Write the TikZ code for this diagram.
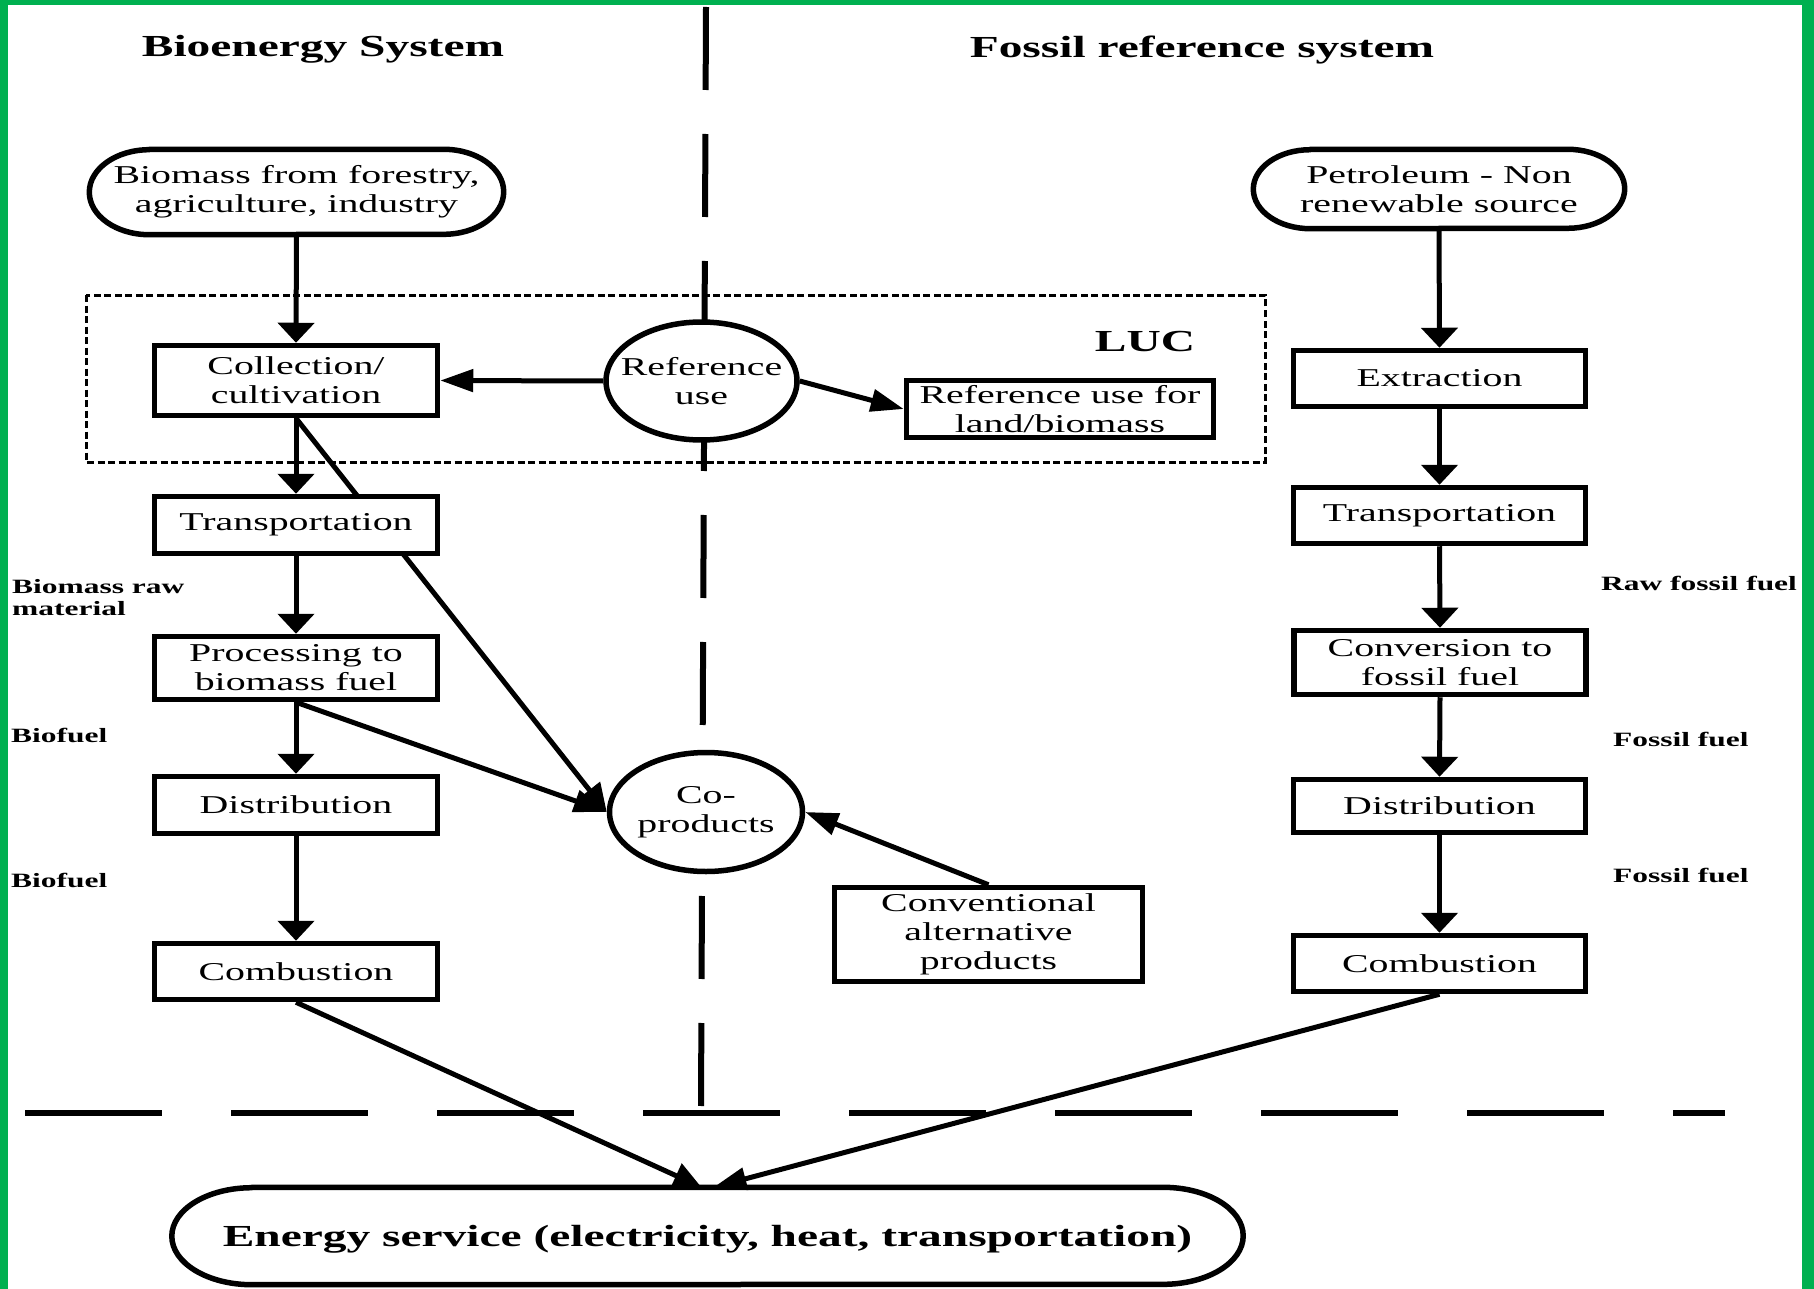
\documentclass[tikz,border=0pt]{standalone}
\usepackage{fontspec}
\setmainfont{Liberation Serif}[FakeStretch=1.55]
\usetikzlibrary{arrows.meta,shapes.geometric}
\pgfdeclarelayer{background}
\pgfsetlayers{background,main}
\definecolor{framegreen}{RGB}{0,176,80}

\newcommand\boxfont{\fontsize{25.7}{29}\selectfont}
\newcommand\labelfont{\fontsize{20.3}{22}\selectfont\bfseries}
\newcommand\titlefont{\fontsize{30.6}{35}\selectfont\bfseries}

% outline of a capsule node: name, end x radius, end y radius
\newcommand\capsuleoutline[3]{%
  \draw[outline] ([xshift=#2]#1.north west) -- ([xshift=-#2]#1.north east)
    arc[start angle=90,end angle=-90,x radius=#2,y radius=#3]
    -- ([xshift=#2]#1.south west)
    arc[start angle=270,end angle=90,x radius=#2,y radius=#3] -- cycle;}

\tikzset{
  stagebox/.style={rectangle, draw, line width=5.5pt, fill=white, inner sep=0pt,
    align=center, font=\boxfont},
  oval/.style={ellipse, draw, line width=5.5pt, fill=white, inner sep=0pt,
    align=center, font=\boxfont},
  capsule/.style={rectangle, inner sep=0pt, align=center},
  outline/.style={line width=5.5pt, line join=round},
  flowlabel/.style={inner sep=0pt, font=\labelfont, align=left},
  heading/.style={inner sep=0pt, font=\titlefont},
  vflow/.style={line width=5pt, -{Triangle[length=20pt,width=36pt]}},
  hflow/.style={line width=5pt, -{Triangle[length=33pt,width=22pt]}},
  dflow/.style={line width=5pt, -{Triangle[length=28pt,width=26pt]}},
  divider/.style={line width=6pt},
  lucframe/.style={line width=3pt, dash pattern=on 7pt off 3.5pt},
}

\begin{document}
\begin{tikzpicture}[x=1pt,y=-1pt]
\useasboundingbox (0,0) rectangle (1814,1289);

% green frame
\fill[framegreen] (0,0) rectangle (8,1289);
\fill[framegreen] (0,0) rectangle (1814,5);
\fill[framegreen] (1802,0) rectangle (1814,1289);

% headings
\node[heading, anchor=base] (hbio) at (323,57) {Bioenergy System};
\node[heading, anchor=base] (hfos) at (1202,58) {Fossil reference system};
\node[heading, anchor=base] (luc) at (1145,351) {LUC};

% bioenergy chain
\node[capsule, font=\boxfont, minimum width=414pt, minimum height=85pt] (bio) at (296.5,192)
  {Biomass from forestry,\\agriculture, industry};
\node[stagebox, minimum width=283pt, minimum height=70pt] (coll) at (296,380.5) {Collection/\\cultivation};
\node[stagebox, minimum width=283pt, minimum height=57pt] (transL) at (296,525) {Transportation};
\node[stagebox, minimum width=283pt, minimum height=63pt] (proc) at (296,668) {Processing to\\biomass fuel};
\node[stagebox, minimum width=283pt, minimum height=57pt] (distL) at (296,805) {Distribution};
\node[stagebox, minimum width=283pt, minimum height=56pt] (combL) at (296,971.5) {Combustion};

% land use and co-products
\node[oval, inner xsep=-30pt, minimum width=191pt, minimum height=118pt] (refuse) at (701.5,381) {Reference\\use};
\node[stagebox, minimum width=307pt, minimum height=57pt] (land) at (1060,409) {Reference use for\\land/biomass};
\node[oval, inner xsep=-10pt, minimum width=193pt, minimum height=119pt] (cop) at (706,812) {Co-\\products};
\node[stagebox, minimum width=308pt, minimum height=94pt] (alt) at (988.5,934.5) {Conventional\\alternative\\products};

% fossil chain
\node[capsule, font=\boxfont, minimum width=371pt, minimum height=79pt] (pet) at (1439,189)
  {Petroleum - Non\\renewable source};
\node[stagebox, minimum width=292pt, minimum height=56pt] (extr) at (1439.5,378.5) {Extraction};
\node[stagebox, minimum width=292pt, minimum height=56pt] (transR) at (1439.5,515.5) {Transportation};
\node[stagebox, minimum width=292pt, minimum height=64pt] (conv) at (1440,662.5) {Conversion to\\fossil fuel};
\node[stagebox, minimum width=292pt, minimum height=53pt] (distR) at (1439.5,806) {Distribution};
\node[stagebox, minimum width=292pt, minimum height=56pt] (combR) at (1439.5,963.5) {Combustion};

% energy service
\node[capsule, font=\titlefont, text depth=0pt, minimum width=1071pt, minimum height=97pt] (energy) at (707.5,1236)
  {Energy service (electricity, heat, transportation)};

\capsuleoutline{bio}{60pt}{42.5pt}
\capsuleoutline{pet}{57pt}{39.5pt}
\capsuleoutline{energy}{80pt}{48.5pt}

% flow labels
\node[flowlabel, anchor=west] (lraw) at (12,598) {Biomass raw\\material};
\node[flowlabel, anchor=base west] (lbf1) at (11,742) {Biofuel};
\node[flowlabel, anchor=base west] (lbf2) at (11,887) {Biofuel};
\node[flowlabel, anchor=base west] (lrff) at (1601,590) {Raw fossil fuel};
\node[flowlabel, anchor=base west] (lff1) at (1613,746) {Fossil fuel};
\node[flowlabel, anchor=base west] (lff2) at (1613,882) {Fossil fuel};

% system boundaries and the LUC frame, behind the nodes
\begin{pgfonlayer}{background}
  \draw[divider, dash pattern=on 83pt off 44pt] (706,7) -- (701,1106);
  \draw[divider, dash pattern=on 137pt off 69pt] (25,1113) -- (1725,1113);
  \draw[lucframe] (86,295) rectangle (1265,462);
  \draw[dflow] (coll.south) -- (cop.west);
\end{pgfonlayer}

% connectors
\draw[vflow] (bio.south) -- (coll.north);
\draw[vflow] (coll.south) -- (transL.north);
\draw[vflow] (transL.south) -- (proc.north);
\draw[vflow] (proc.south) -- (distL.north);
\draw[vflow] (distL.south) -- (combL.north);

\draw[vflow] (pet.south) -- (extr.north);
\draw[vflow] (extr.south) -- (transR.north);
\draw[vflow] (transR.south) -- (conv.north);
\draw[vflow] (conv.south) -- (distR.north);
\draw[vflow] (distR.south) -- (combR.north);

\draw[hflow] (refuse.west) -- (coll.east);
\draw[hflow] (refuse.east) -- (land.west);
\draw[hflow] (proc.south) -- (cop.west);
\draw[hflow] (alt.north) -- (cop.east);

\draw[dflow] (combL.south) -- ([xshift=-6pt]energy.north);
\draw[hflow] (combR.south) -- ([xshift=6pt]energy.north);
\end{tikzpicture}
\end{document}
